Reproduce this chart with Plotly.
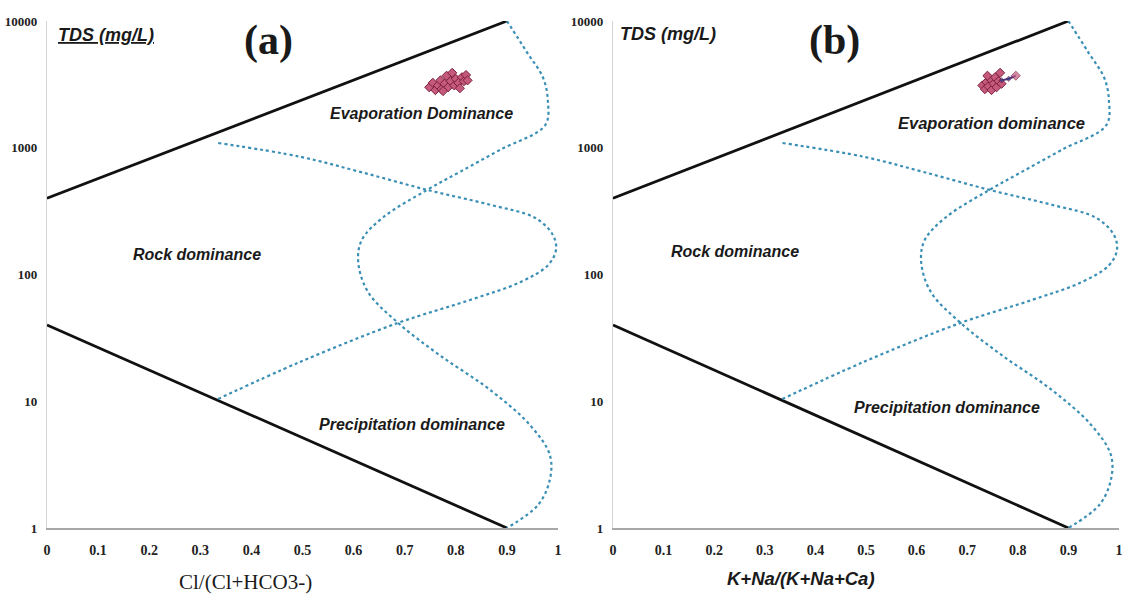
import plotly.graph_objects as go

# ---------------- data ----------------
# Gibbs boundary lines (ratio, TDS mg/L)
upper_line_x = [0.0, 0.9]
upper_line_y = [400, 10000]
lower_line_x = [0.0, 0.9]
lower_line_y = [40, 1]

# dotted envelope curve 1 (top -> bottom, S-shape)
curve1_x = [0.90, 0.939, 0.971, 0.980, 0.975, 0.886, 0.808, 0.744, 0.658, 0.616, 0.609,
            0.628, 0.687, 0.769, 0.867, 0.945, 0.984, 0.984, 0.961, 0.90]
curve1_y = [10000, 5690, 3550, 2380, 1510, 960, 645, 465, 283, 187, 126,
            73, 41.5, 23, 12.3, 6.5, 3.77, 2.4, 1.52, 1.0]

# dotted envelope curve 2 (left top -> right bulge -> left bottom)
curve2_x = [0.335, 0.495, 0.613, 0.744, 0.867, 0.955, 0.990, 0.996, 0.980, 0.926,
            0.828, 0.687, 0.495, 0.33]
curve2_y = [1090, 850, 645, 465, 355, 280, 205, 156, 118, 87,
            63, 41.5, 20.4, 10.2]

# samples, panel (a): Cl/(Cl+HCO3) vs TDS
a_ratio = [0.748, 0.755, 0.760, 0.765, 0.770, 0.772, 0.778, 0.782, 0.785, 0.790,
           0.793, 0.797, 0.800, 0.805, 0.808, 0.812, 0.816, 0.820, 0.823, 0.775]
a_tds = [3000, 3250, 2850, 3100, 3400, 2900, 3200, 3700, 3000, 3350,
         3900, 3100, 3500, 3250, 2950, 3600, 3350, 3750, 3400, 2800]

# samples, panel (b): Na+K/(Na+K+Ca) vs TDS
b_ratio = [0.730, 0.735, 0.738, 0.742, 0.745, 0.748, 0.752, 0.755, 0.758, 0.762,
           0.765, 0.768, 0.740]
b_tds = [3100, 2900, 3300, 3050, 3500, 2850, 3200, 3600, 3000, 3350,
         3900, 3200, 3700]
b_tail_ratio = [0.768, 0.782, 0.796]
b_tail_tds = [3400, 3500, 3700]

x_ticks = [0, 0.1, 0.2, 0.3, 0.4, 0.5, 0.6, 0.7, 0.8, 0.9, 1]
x_tick_text = ["0", "0.1", "0.2", "0.3", "0.4", "0.5", "0.6", "0.7", "0.8", "0.9", "1"]
y_ticks = [1, 10, 100, 1000, 10000]
y_tick_text = ["1", "10", "100", "1000", "10000"]

# ---------------- figure ----------------
DOT = "#3a8fb5"
fig = go.Figure()

for xa, ya in (("x", "y"), ("x2", "y2")):
    fig.add_trace(go.Scatter(x=upper_line_x, y=upper_line_y, mode="lines",
                             line=dict(color="#111111", width=2.8),
                             xaxis=xa, yaxis=ya, cliponaxis=False, showlegend=False))
    fig.add_trace(go.Scatter(x=lower_line_x, y=lower_line_y, mode="lines",
                             line=dict(color="#111111", width=2.8),
                             xaxis=xa, yaxis=ya, cliponaxis=False, showlegend=False))
    fig.add_trace(go.Scatter(x=curve1_x, y=curve1_y, mode="lines",
                             line=dict(color=DOT, width=2.2, dash="dot", shape="spline", smoothing=1.0),
                             xaxis=xa, yaxis=ya, cliponaxis=False, showlegend=False))
    fig.add_trace(go.Scatter(x=curve2_x, y=curve2_y, mode="lines",
                             line=dict(color=DOT, width=2.2, dash="dot", shape="spline", smoothing=1.0),
                             xaxis=xa, yaxis=ya, cliponaxis=False, showlegend=False))

marker_style = dict(symbol="diamond", size=7, color="#c65a7c",
                    line=dict(color="#7a1f3d", width=1))
fig.add_trace(go.Scatter(x=a_ratio, y=a_tds, mode="markers", marker=marker_style,
                         xaxis="x", yaxis="y", showlegend=False))
fig.add_trace(go.Scatter(x=b_ratio, y=b_tds, mode="markers", marker=marker_style,
                         xaxis="x2", yaxis="y2", showlegend=False))
fig.add_trace(go.Scatter(x=b_tail_ratio, y=b_tail_tds, mode="lines+markers",
                         line=dict(color="#3a3a8c", width=2),
                         marker=dict(symbol="diamond", size=[4, 4, 7],
                                     color=["#3a3a8c", "#3a3a8c", "#c65a7c"],
                                     line=dict(color="#7a1f3d", width=1)),
                         xaxis="x2", yaxis="y2", showlegend=False))

xdom_a = [47 / 1126, 558 / 1126]
xdom_b = [613 / 1126, 1119 / 1126]
ydom = [1 - 528 / 606, 1 - 21 / 606]

xcommon = dict(range=[0, 1], tickvals=x_ticks, ticktext=x_tick_text, showgrid=False,
               zeroline=False, showline=True, linecolor="#a8a8a8", linewidth=1.5,
               ticks="", ticklabelstandoff=9, automargin=False,
               tickfont=dict(family="Liberation Serif, Times New Roman, serif", size=14,
                             color="#222222", weight="bold"))
ycommon = dict(type="log", range=[0, 4], tickvals=y_ticks, ticktext=y_tick_text,
               showgrid=False, zeroline=False, showline=True, linecolor="#d4d4d4",
               linewidth=1.2, ticks="", ticklabelstandoff=6, automargin=False,
               tickfont=dict(family="Liberation Serif, Times New Roman, serif", size=13,
                             color="#222222", weight="bold"))

fig.update_layout(
    width=1126, height=606,
    margin=dict(l=0, r=0, t=0, b=0, autoexpand=False),
    paper_bgcolor="white", plot_bgcolor="white",
    xaxis=dict(domain=xdom_a, anchor="y", **xcommon),
    yaxis=dict(domain=ydom, anchor="x", **ycommon),
    xaxis2=dict(domain=xdom_b, anchor="y2", **xcommon),
    yaxis2=dict(domain=ydom, anchor="x2", **ycommon),
)

SANS = "Liberation Sans Narrow, Liberation Sans, Arial, sans-serif"
SERIF = "Liberation Serif, Times New Roman, serif"

def W(px):
    return px / 1126

def H(py):
    return 1 - py / 606

annots = [
    ("<u><b><i>TDS (mg/L)</i></b></u>", 106, 35, SANS, 18),
    ("<b><i>TDS (mg/L)</i></b>", 668, 34, SANS, 18),
    ("<b>(a)</b>", 268, 41, SERIF, 42),
    ("<b>(b)</b>", 834, 41, SERIF, 42),
    ("<b><i>Evaporation Dominance</i></b>", 421, 114, SANS, 16),
    ("<b><i>Evaporation dominance</i></b>", 991, 123, SANS, 16.5),
    ("<b><i>Rock dominance</i></b>", 197, 255, SANS, 16),
    ("<b><i>Rock dominance</i></b>", 735, 252, SANS, 16),
    ("<b><i>Precipitation dominance</i></b>", 412, 424, SANS, 16),
    ("<b><i>Precipitation dominance</i></b>", 947, 407, SANS, 16),
    ("Cl/(Cl+HCO3-)", 245, 582, SERIF, 21),
    ("<b><i>K+Na/(K+Na+Ca)</i></b>", 801, 578, SANS, 18.5),
]
for text, px, py, fam, size in annots:
    fig.add_annotation(text=text, x=W(px), y=H(py), xref="paper", yref="paper",
                       xanchor="center", yanchor="middle", showarrow=False,
                       font=dict(family=fam, size=size, color="#1a1a1a"))

fig.write_html("out.html",
               config={"displayModeBar": False, "staticPlot": True},
               post_script="document.body.style.margin='0';document.body.style.overflow='hidden';")
